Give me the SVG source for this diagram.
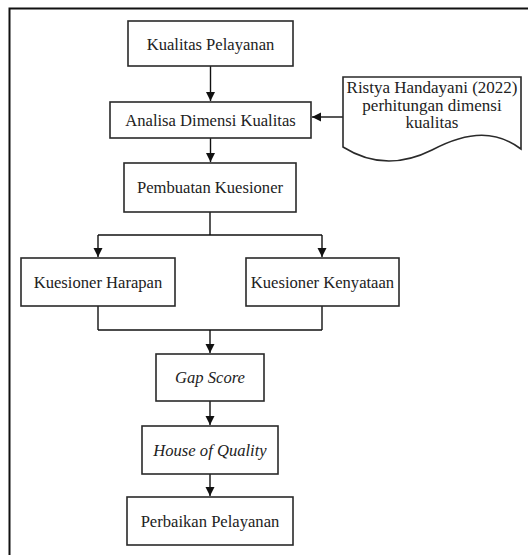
<svg xmlns="http://www.w3.org/2000/svg" width="528" height="555" viewBox="0 0 528 555">
<defs>
<marker id="arr" markerWidth="10" markerHeight="10" refX="9" refY="5" orient="auto" markerUnits="userSpaceOnUse">
<path d="M0,0.5 L9,5 L0,9.5 Z" fill="#111"/>
</marker>
<style>
.box{fill:#fff;stroke:#2a2a2a;stroke-width:1.6}
.t{font-size:16.6px;fill:#222;text-anchor:middle}
.i{font-style:italic}
.c{fill:none;stroke:#111;stroke-width:1.4}
</style>
</defs>
<rect x="0" y="0" width="528" height="555" fill="#fff"/>
<path d="M9.5,560 V8.5 H530" fill="none" stroke="#111" stroke-width="2"/>
<g id="connectors">
<line class="c" x1="210.5" y1="66" x2="210.5" y2="101" marker-end="url(#arr)"/>
<line class="c" x1="210.5" y1="138" x2="210.5" y2="162" marker-end="url(#arr)"/>
<line class="c" x1="343" y1="117" x2="312" y2="117" marker-end="url(#arr)"/>
<line class="c" x1="210" y1="212" x2="210" y2="235"/>
<line class="c" x1="98" y1="235" x2="322" y2="235"/>
<line class="c" x1="98" y1="235" x2="98" y2="257" marker-end="url(#arr)"/>
<line class="c" x1="322" y1="235" x2="322" y2="257" marker-end="url(#arr)"/>
<line class="c" x1="98" y1="306" x2="98" y2="330"/>
<line class="c" x1="322" y1="306" x2="322" y2="330"/>
<line class="c" x1="98" y1="330" x2="322" y2="330"/>
<line class="c" x1="210" y1="330" x2="210" y2="353" marker-end="url(#arr)"/>
<line class="c" x1="210" y1="401" x2="210" y2="425" marker-end="url(#arr)"/>
<line class="c" x1="210" y1="474" x2="210" y2="496" marker-end="url(#arr)"/>
</g>
<g font-family="'Liberation Serif', 'Times New Roman', serif">
<g id="kualitas-pelayanan">
<rect class="box" x="128" y="21" width="165" height="45"/>
<text class="t" x="210.5" y="50">Kualitas Pelayanan</text>
</g>
<g id="analisa-dimensi">
<rect class="box" x="110" y="102" width="201" height="36"/>
<text class="t" x="210.5" y="125.5">Analisa Dimensi Kualitas</text>
</g>
<g id="ristya">
<path class="box" d="M343,77 H521 V149 C497,131 470,130 432,150 C400,166 370,164 343,147 Z"/>
<text class="t" font-size="17" style="font-size:17px" x="432" y="93">Ristya Handayani (2022)</text>
<text class="t" style="font-size:17px" x="432" y="110.5">perhitungan dimensi</text>
<text class="t" style="font-size:17px" x="432" y="128">kualitas</text>
</g>
<g id="pembuatan-kuesioner">
<rect class="box" x="124" y="163" width="172" height="49"/>
<text class="t" x="210" y="193">Pembuatan Kuesioner</text>
</g>
<g id="kuesioner-harapan">
<rect class="box" x="21" y="258" width="154" height="48"/>
<text class="t" x="98" y="288">Kuesioner Harapan</text>
</g>
<g id="kuesioner-kenyataan">
<rect class="box" x="246" y="258" width="153" height="48"/>
<text class="t" x="322.5" y="288">Kuesioner Kenyataan</text>
</g>
<g id="gap-score">
<rect class="box" x="156" y="354" width="108" height="47"/>
<text class="t i" x="210" y="383">Gap Score</text>
</g>
<g id="house-of-quality">
<rect class="box" x="142" y="426" width="136" height="48"/>
<text class="t i" x="210" y="456">House of Quality</text>
</g>
<g id="perbaikan-pelayanan">
<rect class="box" x="127" y="497" width="166" height="48"/>
<text class="t" x="210" y="527">Perbaikan Pelayanan</text>
</g>
</g>
</svg>
